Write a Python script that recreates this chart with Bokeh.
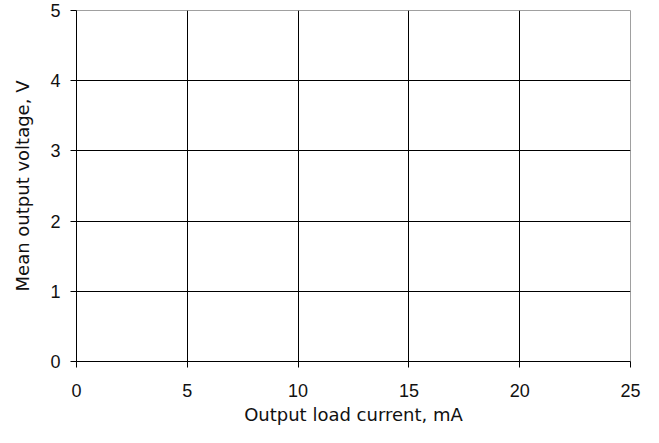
from bokeh.plotting import figure
from bokeh.models import FixedTicker, Range1d
from bokeh.embed import file_html
from bokeh.resources import INLINE

x_ticks = [0, 5, 10, 15, 20, 25]
y_ticks = [0, 1, 2, 3, 4, 5]
x_title = "Output load current, mA"
y_title = "Mean output voltage, V"

p = figure(width=659, height=443, output_backend="svg", toolbar_location=None,
           x_range=Range1d(x_ticks[0], x_ticks[-1]), y_range=Range1d(y_ticks[0], y_ticks[-1]),
           min_border_left=76, min_border_right=29, min_border_top=10, min_border_bottom=82)
p.background_fill_color = "white"
p.border_fill_color = "white"
p.outline_line_color = "#a0a0a0"
p.outline_line_width = 1

TICK_FONT = "Liberation Sans"
TITLE_FONT = "DejaVu Sans"
for ax, ticks in ((p.xaxis[0], x_ticks), (p.yaxis[0], y_ticks)):
    ax.ticker = FixedTicker(ticks=ticks)
    ax.axis_line_color = "black"
    ax.major_tick_line_color = "black"
    ax.major_tick_out = 6
    ax.major_tick_in = 0
    ax.minor_tick_line_color = None
    ax.major_label_text_font = TICK_FONT
    ax.major_label_text_font_size = "18px"
    ax.major_label_text_color = "#111111"
    ax.axis_label_text_font = TITLE_FONT
    ax.axis_label_text_font_size = "18px"
    ax.axis_label_text_font_style = "normal"
    ax.axis_label_text_color = "#111111"

p.xaxis.axis_label = x_title
p.yaxis.axis_label = y_title
p.xaxis.major_label_standoff = 16
p.yaxis.major_label_standoff = 10
p.xaxis.axis_label_standoff = 4
p.yaxis.axis_label_standoff = 14

p.xgrid.ticker = FixedTicker(ticks=x_ticks)
p.ygrid.ticker = FixedTicker(ticks=y_ticks)
p.grid.grid_line_color = "black"
p.grid.grid_line_width = 1
p.grid.grid_line_alpha = 1

open("out.html", "w").write(file_html(p, INLINE))
